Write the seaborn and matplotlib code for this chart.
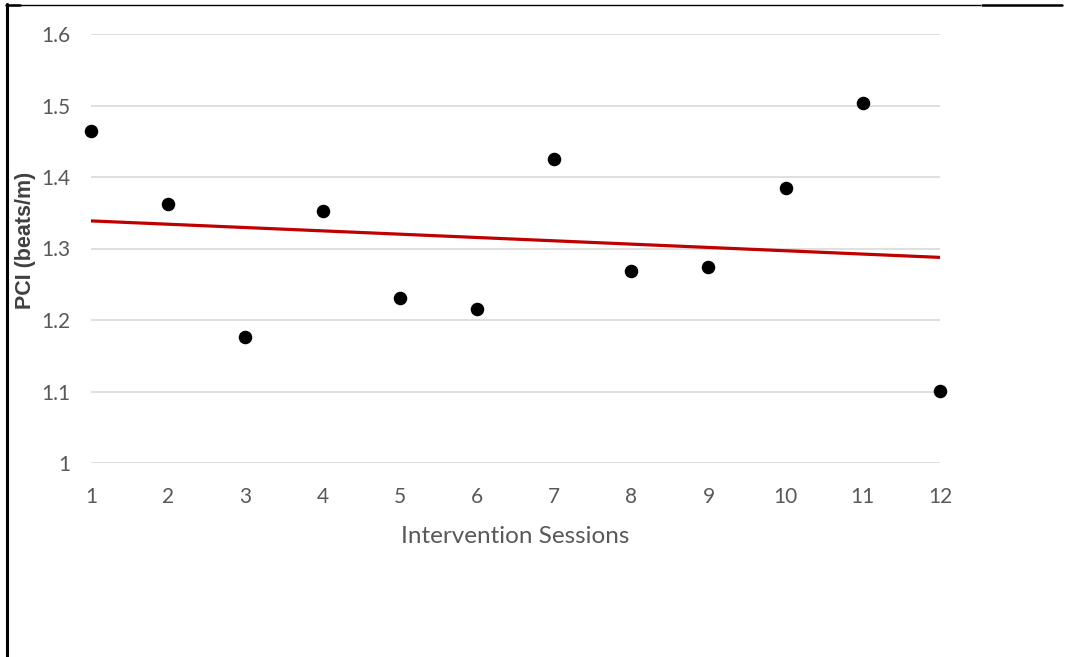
import numpy as np
import pandas as pd
import seaborn as sns
import matplotlib
matplotlib.use("Agg")
import matplotlib.pyplot as plt
from matplotlib.lines import Line2D

# data
sessions = [1, 2, 3, 4, 5, 6, 7, 8, 9, 10, 11, 12]
pci = [1.464, 1.362, 1.176, 1.352, 1.231, 1.215, 1.425, 1.269, 1.274, 1.385, 1.503, 1.101]
y_ticks = [1, 1.1, 1.2, 1.3, 1.4, 1.5, 1.6]
y_tick_labels = ["1", "1.1", "1.2", "1.3", "1.4", "1.5", "1.6"]

df = pd.DataFrame({"Session": sessions, "PCI": pci})

sns.set_style("white")
plt.rcParams["font.family"] = ["Lato", "DejaVu Sans"]

fig = plt.figure(figsize=(10.69, 6.57), dpi=100)
ax = fig.add_axes([91 / 1069, 1 - 463 / 657, 849 / 1069, 429 / 657])

for t in y_ticks:
    ax.axhline(t, color="#d9d9d9", lw=1.2, zorder=0)

sns.regplot(data=df, x="Session", y="PCI", ax=ax, ci=None, truncate=True,
            scatter_kws={"s": 95, "color": "black", "alpha": 1, "zorder": 3,
                         "clip_on": False, "linewidths": 0},
            line_kws={"color": "#c00000", "lw": 2.3, "zorder": 2})

ax.set_xlim(1, 12)
ax.set_ylim(1, 1.6)
ax.set_xticks(sessions)
ax.set_xticklabels([str(s) for s in sessions])
ax.set_yticks(y_ticks)
ax.set_yticklabels(y_tick_labels)
ax.tick_params(axis="both", length=0, labelsize=15, labelcolor="#595959")
ax.tick_params(axis="x", pad=17)
ax.tick_params(axis="y", pad=15)
for s in ax.spines.values():
    s.set_visible(False)

ax.set_xlabel("Intervention Sessions", fontsize=17.5, color="#595959", labelpad=14)
ax.set_ylabel("PCI (beats/m)", fontsize=15.5, fontweight="bold", color="#404040",
              family=["Liberation Sans", "DejaVu Sans"], va="center")
ax.yaxis.set_label_coords((26 - 91) / 849, 0.52)

# frame lines around the picture
fig.add_artist(Line2D([7 / 1069, 7 / 1069], [0, 1 - 4 / 657], transform=fig.transFigure, color="black", lw=2.2))
fig.add_artist(Line2D([6 / 1069, 980 / 1069], [1 - 4.5 / 657, 1 - 4.5 / 657], transform=fig.transFigure, color="black", lw=1.0))
fig.add_artist(Line2D([982 / 1069, 1062 / 1069], [1 - 5 / 657, 1 - 5 / 657], transform=fig.transFigure, color="black", lw=1.8))
fig.add_artist(Line2D([6 / 1069, 20 / 1069], [1 - 5 / 657, 1 - 5 / 657], transform=fig.transFigure, color="black", lw=1.8))

fig.savefig("out.png", dpi=100)
